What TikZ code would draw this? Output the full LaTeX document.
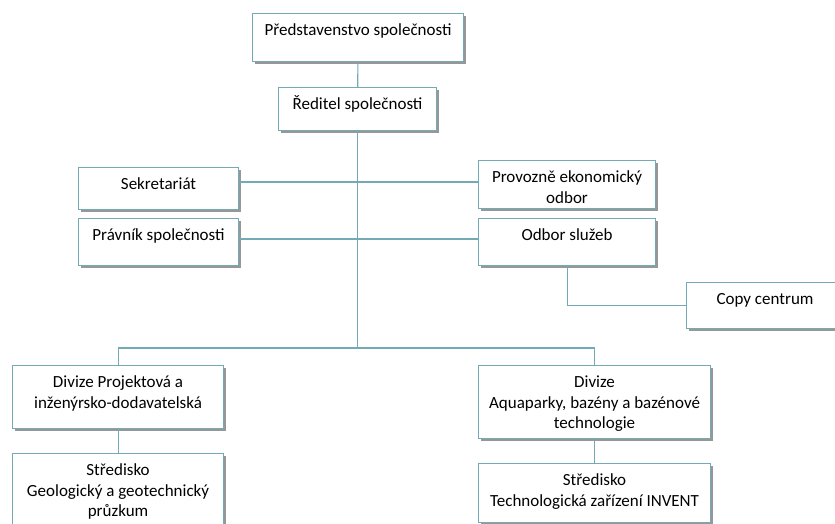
\documentclass[tikz,border=0pt]{standalone}
\usepackage{fontspec}
\setmainfont{Carlito}
\usetikzlibrary{shadows}
\definecolor{framecol}{RGB}{115,170,182}
\definecolor{shadecol}{RGB}{140,140,140}
\newcommand{\boxtext}[3]{\parbox[c][#2][t]{#1}{\centering\rule{0pt}{22pt}#3}}

\begin{document}
\begin{tikzpicture}[
  x=1pt, y=-1pt,
  font=\fontsize{17}{20.5}\selectfont,
  orgbox/.style={draw=framecol, line width=1.1pt, fill=white, inner sep=0pt, anchor=north west,
    drop shadow={shadow xshift=2.5pt, shadow yshift=-2.5pt, fill=shadecol, opacity=0.9}},
  link/.style={draw=framecol, line width=1.1pt}
]
\useasboundingbox (0,0) rectangle (835,524);

% management
\node[orgbox] (board) at (252,13) {\boxtext{211pt}{48pt}{Představenstvo společnosti}};
\node[orgbox] (director) at (278,87) {\boxtext{158pt}{43pt}{Ředitel společnosti}};

% staff units
\node[orgbox] (secretariat) at (78,167) {\boxtext{160pt}{42pt}{Sekretariát}};
\node[orgbox] (lawyer) at (78,218) {\boxtext{160pt}{47pt}{Právník společnosti}};
\node[orgbox] (economy) at (478,160) {\boxtext{177pt}{48pt}{Provozně ekonomický\\odbor}};
\node[orgbox] (services) at (478,218) {\boxtext{177pt}{47pt}{Odbor služeb}};
\node[orgbox] (copy) at (686,282) {\boxtext{157pt}{46pt}{Copy centrum}};

% divisions
\node[orgbox] (divproj) at (12,365) {\boxtext{211pt}{63pt}{Divize Projektová a\\inženýrsko-dodavatelská}};
\node[orgbox] (geo) at (12,453) {\boxtext{211pt}{78pt}{Středisko\\Geologický a geotechnický\\průzkum}};
\node[orgbox] (divaqua) at (478,365) {\boxtext{232pt}{73pt}{Divize\\Aquaparky, bazény a bazénové\\technologie}};
\node[orgbox] (invent) at (478,463) {\boxtext{232pt}{59pt}{Středisko\\Technologická zařízení INVENT}};

\coordinate (upper) at (358,182);
\coordinate (lower) at (358,239);
\coordinate (hub) at (director.south |- 0,348);

\draw[link] (board) -- (director);
\draw[link] (director.south) -- (hub);
\draw[link] (secretariat.east |- upper) -- (economy.west |- upper);
\draw[link] (lawyer.east |- lower) -- (services.west |- lower);
\draw[link] (services.south) |- (copy.west);
\draw[link] (divproj.north) |- (hub) -| (divaqua.north);
\draw[link] (divproj) -- (geo);
\draw[link] (divaqua) -- (invent);
\end{tikzpicture}
\end{document}
